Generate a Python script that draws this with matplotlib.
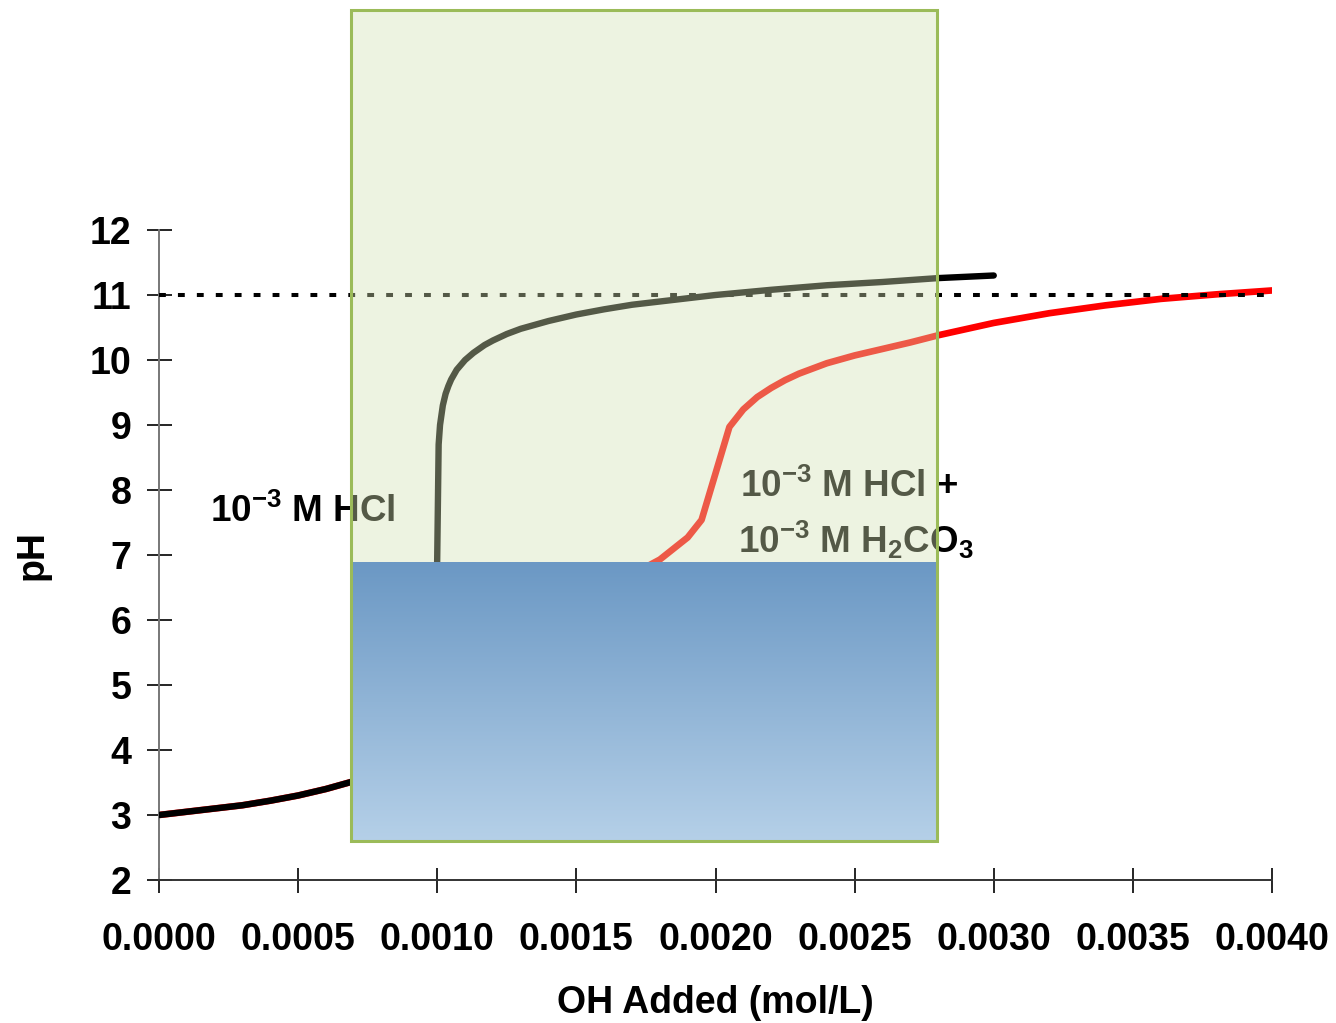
import matplotlib.pyplot as plt
import numpy as np
from matplotlib.patches import Rectangle
from matplotlib.colors import LinearSegmentedColormap

# titration of 1e-3 M HCl with OH
oh_hcl = [0, 0.0001, 0.0002, 0.0003, 0.0004, 0.0005, 0.0006, 0.0007, 0.0008, 0.0009,
          0.00095, 0.00098, 0.00099, 0.000995, 0.001, 0.001005, 0.00101, 0.00102,
          0.00103, 0.00104, 0.00105, 0.00107, 0.0011, 0.00113, 0.00117, 0.0012, 0.00125,
          0.0013, 0.00135, 0.0014, 0.0015, 0.0016, 0.0017, 0.0018, 0.002, 0.0022,
          0.0024, 0.0026, 0.0028, 0.003]
ph_hcl = [3.00, 3.05, 3.10, 3.15, 3.22, 3.30, 3.40, 3.52, 3.70, 4.00,
          4.30, 4.70, 5.00, 5.30, 7.00, 8.70, 9.00, 9.30,
          9.48, 9.60, 9.70, 9.85, 10.00, 10.11, 10.23, 10.30, 10.40,
          10.48, 10.54, 10.60, 10.70, 10.78, 10.85, 10.90, 11.00, 11.08,
          11.15, 11.20, 11.26, 11.30]

# titration of 1e-3 M HCl + 1e-3 M H2CO3
oh_mix = [0, 0.0001, 0.0002, 0.0003, 0.0004, 0.0005, 0.0006, 0.0007, 0.0008, 0.0009,
          0.001, 0.0011, 0.0012, 0.0013, 0.0014, 0.0015, 0.0016, 0.0017, 0.0018,
          0.0019, 0.00195, 0.00205, 0.0021, 0.00215, 0.0022, 0.00225, 0.0023, 0.0024,
          0.0025, 0.0026, 0.0027, 0.0028, 0.003, 0.0032, 0.0034, 0.0036, 0.0038, 0.004]
ph_mix = [3.00, 3.05, 3.10, 3.15, 3.22, 3.30, 3.40, 3.52, 3.70, 4.00,
          4.60, 5.40, 5.75, 6.00, 6.20, 6.35, 6.50, 6.70, 6.93,
          7.27, 7.54, 8.97, 9.24, 9.43, 9.57, 9.69, 9.79, 9.95,
          10.07, 10.17, 10.27, 10.38, 10.57, 10.72, 10.84, 10.94, 11.01, 11.07]

ref_ph = 11
x_ticks = [0.0, 0.0005, 0.001, 0.0015, 0.002, 0.0025, 0.003, 0.0035, 0.004]
x_labels = ['0.0000', '0.0005', '0.0010', '0.0015', '0.0020', '0.0025', '0.0030', '0.0035', '0.0040']
y_ticks = [2, 3, 4, 5, 6, 7, 8, 9, 10, 11, 12]

plt.rcParams['font.family'] = ['Liberation Sans', 'DejaVu Sans']
plt.rcParams['font.weight'] = 'bold'
plt.rcParams['mathtext.fontset'] = 'custom'
plt.rcParams['mathtext.rm'] = 'Liberation Sans:bold'
plt.rcParams['mathtext.bf'] = 'Liberation Sans:bold'
plt.rcParams['mathtext.it'] = 'Liberation Sans:bold'

fig = plt.figure(figsize=(13.36, 10.23), dpi=100)
ax = fig.add_axes([159/1336, 1 - 880/1023, 1113/1336, 650/1023])

ax.plot(oh_mix, ph_mix, color='#ff0000', lw=4.8, solid_capstyle='round',
        solid_joinstyle='round', zorder=2)
ax.plot(oh_hcl, ph_hcl, color='black', lw=4.6, solid_capstyle='round',
        solid_joinstyle='round', zorder=3)
ax.plot([0, 0.004], [ref_ph, ref_ph], color='black', lw=2.9, linestyle=(0, (1.7, 3.0)), zorder=4)

ax.text(0.000183, 7.51, '10$^{-3}$ M HCl', fontsize=26.5, fontweight='bold', va='baseline')
ax.text(0.002088, 7.89, '10$^{-3}$ M HCl +', fontsize=26.5, fontweight='bold', va='baseline')
ax.text(0.002081, 7.03, '10$^{-3}$ M H$_2$CO$_3$', fontsize=26.5, fontweight='bold', va='baseline')

ax.set_xlim(0, 0.004)
ax.set_ylim(2, 12)
ax.set_xticks(x_ticks)
ax.set_xticklabels(x_labels)
ax.set_yticks(y_ticks)
ax.tick_params(direction='inout', length=18, width=1.2, labelsize=27, color='black')
ax.tick_params(axis='x', pad=21)
ax.tick_params(axis='y', pad=11)
ax.spines['top'].set_visible(False)
ax.spines['right'].set_visible(False)
ax.spines['left'].set_color('#777777')
ax.spines['bottom'].set_color('#333333')
ax.spines['left'].set_linewidth(1.4)
ax.spines['bottom'].set_linewidth(1.4)
ax.set_xlabel('OH Added (mol/L)', fontsize=27, fontweight='bold', labelpad=20)
ax.set_ylabel('pH', fontsize=27, fontweight='bold', labelpad=28)

# overlay box drawn on top of the chart
ov = fig.add_axes([351/1336, 1 - 841/1023, 586/1336, 831/1023], zorder=5)
ov.set_xlim(0, 1)
ov.set_ylim(0, 1)
ov.axis('off')
split = (841 - 562) / 831
blue = LinearSegmentedColormap.from_list('blue', ['#b5d0e8', '#6b98c4'])
grad = np.linspace(0, 1, 256).reshape(-1, 1)
ov.imshow(grad, cmap=blue, origin='lower', aspect='auto', extent=(0, 1, 0, split), zorder=1)
ov.add_patch(Rectangle((0, split), 1, 1 - split, facecolor='#d4e1b4', alpha=0.4,
                       edgecolor='none', zorder=1))
ov.add_patch(Rectangle((0, 0), 1, 1, fill=False, edgecolor='#9bbb59', lw=2.2, zorder=3,
                       clip_on=False))

fig.savefig('out.png', dpi=100)
